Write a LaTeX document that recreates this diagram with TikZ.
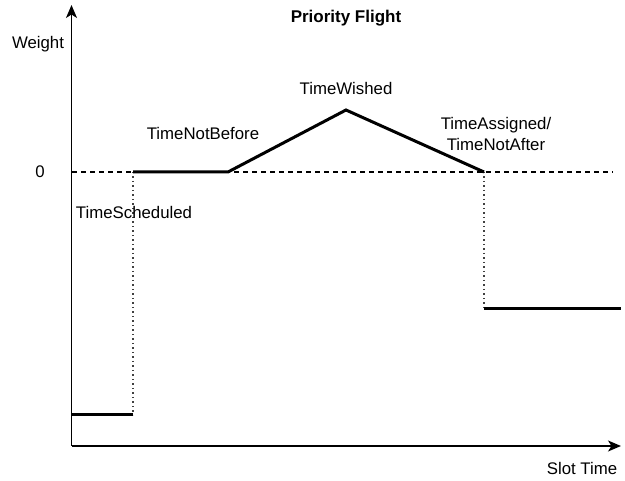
\documentclass[tikz,border=0pt]{standalone}
\usepackage{fontspec}
\setmainfont{Liberation Sans}
\usetikzlibrary{arrows.meta}
\begin{document}
\begin{tikzpicture}[x=1pt,y=-1pt,
  axis/.style={line width=1.5pt,-{Stealth[length=13pt,width=11pt,inset=3.5pt]}},
  zeroline/.style={line width=1.2pt,dash pattern=on 5pt off 4pt},
  guide/.style={line width=1.3pt,dash pattern=on 1.3pt off 3.2pt,black!75},
  profile/.style={line width=3pt},
  lbl/.style={font=\fontsize{16.8}{20}\selectfont,inner sep=0pt}]
\useasboundingbox (0,0) rectangle (625,481);
% axes
\coordinate (o) at (71.5,446);
\coordinate (ytop) at (71.5,5);
\coordinate (xend) at (621,446);
\draw[axis] (o) -- (ytop);
\draw[axis] (o) -- (xend);
% zero level
\coordinate (z0) at (72,172);
\coordinate (z1) at (613,172);
\draw[zeroline] (z0) -- (z1);
% profile points
\coordinate (a0) at (71.5,415);
\coordinate (a1) at (133,415);
\coordinate (b0) at (133,172);
\coordinate (b1) at (228,172);
\coordinate (peak) at (346,110);
\coordinate (c0) at (484,172);
\coordinate (c1) at (484,309);
\coordinate (c2) at (621,309);
\draw[guide] (b0) -- (a1);
\draw[guide] (c0) -- (c1);
\draw[profile] (a0) -- (a1);
\draw[profile] (b0) -- (b1) -- (peak) -- (c0);
\draw[profile] (c1) -- (c2);
% labels
\node[lbl,font=\fontsize{17}{20}\selectfont\bfseries] (title) at (346,18) {Priority Flight};
\node[lbl] (wt) at (38,44) {Weight};
\node[lbl] (zero) at (40,172) {0};
\node[lbl] (ts) at (134,212) {TimeScheduled};
\node[lbl] (tnb) at (203,133) {TimeNotBefore};
\node[lbl] (tw) at (346,88) {TimeWished};
\node[lbl,align=center,font=\fontsize{16.8}{20.5}\selectfont] (ta) at (496,134) {TimeAssigned/\\TimeNotAfter};
\node[lbl] (st) at (582,468) {Slot Time};
\end{tikzpicture}
\end{document}
